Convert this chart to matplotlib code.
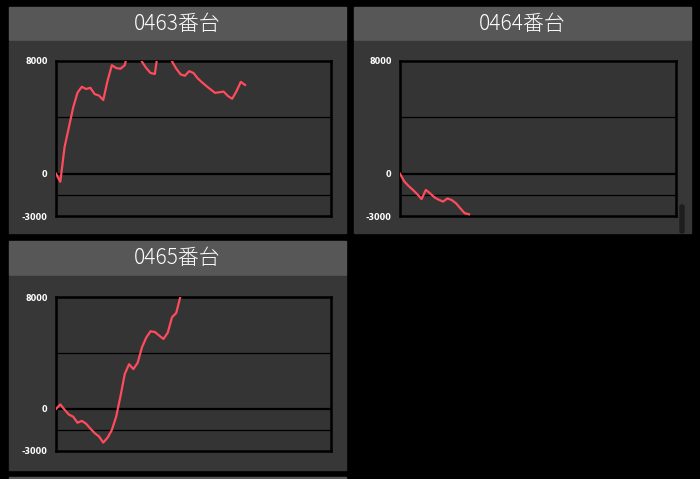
import matplotlib
matplotlib.use('Agg')
import matplotlib.pyplot as plt
from matplotlib.patches import Rectangle, FancyBboxPatch

# 差枚の推移 (読み取り値)
titles = ['0463番台', '0464番台', '0465番台']
diff_0463 = [0, -570, 1900, 3300, 4700, 5750, 6170, 6010, 6100, 5650,
             5550, 5230, 6600, 7700, 7500, 7450, 7700, 9000, 9500, 8900,
             7950, 7500, 7150, 7080, 9200, 10000, 9000, 7970, 7450, 7050,
             6950, 7280, 7150, 6760, 6480, 6220, 5980, 5740, 5780, 5830,
             5520, 5320, 5850, 6520, 6300]
diff_0464 = [0, -550, -870, -1150, -1450, -1800, -1150, -1400, -1680, -1850,
             -1980, -1750, -1870, -2100, -2460, -2800, -2880]
diff_0465 = [0, 330, -50, -400, -550, -980, -850, -1050, -1400, -1720,
             -1960, -2400, -2050, -1500, -550, 900, 2500, 3200, 2850, 3300,
             4400, 5100, 5550, 5500, 5250, 5000, 5450, 6550, 6870, 8100]
series = [diff_0463, diff_0464, diff_0465]

y_ticks = [8000, 0, -3000]
y_labels = ['8000', '0', '-3000']
grid_lines = [4000, -1500]

W, H = 700, 479
fig = plt.figure(figsize=(7, 4.79), dpi=100)
fig.patch.set_facecolor('black')


def rect(x0, y0, x1, y1, color):
    # ピクセル座標 (左上原点) で塗りつぶし
    fig.patches.append(Rectangle((x0 / W, 1 - y1 / H), (x1 - x0) / W, (y1 - y0) / H,
                                 transform=fig.transFigure, color=color, zorder=-5))


# パネル: (左, 右, ヘッダ上, ヘッダ下, 本体下, グラフ左, グラフ右, グラフ上, グラフ下)
panels = [
    (9, 346, 7, 40, 233, 56, 331, 61, 216),
    (354, 691, 7, 40, 233, 400, 676, 61, 216),
    (9, 346, 241, 275, 470, 56, 331, 297, 451),
]

for (x0, x1, h0, h1, b1, gx0, gx1, gy0, gy1), title, data in zip(panels, titles, series):
    rect(x0, h0, x1, h1, '#575757')
    rect(x0, h1 + 1, x1, b1, '#373737')
    fig.text((x0 + x1) / 2 / W, 1 - (h0 + h1) / 2 / H, title, color='white',
             fontsize=15, fontweight='light', family=['Noto Sans CJK JP', 'DejaVu Sans'],
             ha='center', va='center')

    ax = fig.add_axes([gx0 / W, 1 - gy1 / H, (gx1 - gx0) / W, (gy1 - gy0) / H])
    ax.set_facecolor('#343434')
    ax.plot(range(len(data)), data, color='#ff4b5c', linewidth=1.6, zorder=3)
    ax.set_xlim(0, 64)
    ax.set_ylim(-3000, 8000)
    for g in grid_lines:
        ax.axhline(g, color='black', linewidth=0.9, zorder=2)
    ax.axhline(0, color='black', linewidth=1.6, zorder=2)
    for s in ax.spines.values():
        s.set_color('black')
        s.set_linewidth(1.8)
    ax.set_xticks([])
    ax.set_yticks(y_ticks)
    ax.set_yticklabels(y_labels, color='white', fontsize=6.5, fontweight='bold',
                       fontstretch='condensed', family='DejaVu Sans')
    ax.tick_params(axis='y', length=0, pad=6)

# 下に続く次のパネルのヘッダ
rect(9, 477, 346, 479, '#575757')

# スクロールバー
fig.patches.append(FancyBboxPatch((680 / W, 1 - 233 / H), 4 / W, 28 / H,
                                  boxstyle='round,pad=0,rounding_size=0.003',
                                  transform=fig.transFigure, color='#1e1e1e', zorder=-1))

fig.savefig('out.png', dpi=100, facecolor='black')
